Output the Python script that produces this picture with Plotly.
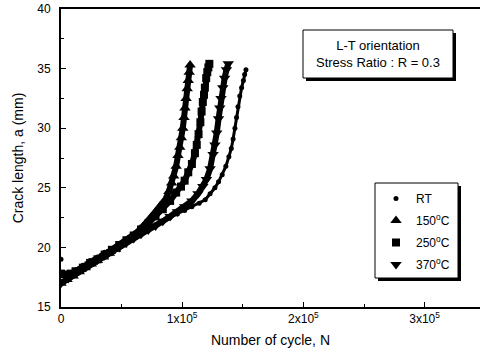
import plotly.graph_objects as go

# ---- data (N in units of 1e5 cycles, crack length a in mm) ----
rt_N = [0.00, 0.06, 0.12, 0.18, 0.24, 0.30, 0.36, 0.42, 0.48, 0.54, 0.60, 0.66, 0.72, 0.78,
        0.84, 0.90, 0.96, 1.02, 1.08, 1.14, 1.19, 1.23, 1.27, 1.30, 1.33, 1.36, 1.385, 1.405,
        1.42, 1.435, 1.448, 1.46, 1.475, 1.49, 1.505, 1.515, 1.526]
rt_a = [19.0, 17.8, 18.1, 18.5, 18.9, 19.2, 19.6, 19.9, 20.3, 20.6, 21.0, 21.3, 21.6, 21.9,
        22.2, 22.5, 22.8, 23.1, 23.4, 23.7, 24.0, 24.5, 25.0, 25.5, 26.1, 26.8, 27.6, 28.3,
        29.1, 30.0, 30.9, 31.8, 32.7, 33.4, 34.0, 34.5, 34.9]

t150_N = [0.00, 0.05, 0.10, 0.15, 0.20, 0.25, 0.30, 0.35, 0.40, 0.45, 0.50, 0.55, 0.60, 0.65,
          0.70, 0.74, 0.78, 0.82, 0.86, 0.89, 0.913, 0.93, 0.95, 0.965, 0.98, 0.993, 1.005,
          1.015, 1.023, 1.032, 1.041, 1.05, 1.058, 1.065]
t150_a = [17.0, 17.3, 17.6, 17.95, 18.3, 18.6, 18.9, 19.2, 19.5, 19.85, 20.2, 20.6, 21.0, 21.5,
          22.0, 22.5, 23.0, 23.5, 24.0, 24.7, 25.4, 26.0, 26.8, 27.7, 28.4, 29.2, 30.0,
          30.9, 31.7, 32.5, 33.3, 34.0, 34.7, 35.3]

t250_N = [0.00, 0.08, 0.12, 0.18, 0.24, 0.30, 0.36, 0.42, 0.48, 0.54, 0.60, 0.66, 0.72, 0.78,
          0.84, 0.90, 0.95, 0.99, 1.02, 1.05, 1.08, 1.105, 1.12, 1.135, 1.15, 1.16, 1.17, 1.18,
          1.187, 1.198, 1.207, 1.216, 1.224]
t250_a = [17.8, 17.8, 18.0, 18.3, 18.7, 19.0, 19.4, 19.8, 20.2, 20.6, 21.0, 21.5, 22.0, 22.6,
          23.2, 23.9, 24.6, 25.1, 25.6, 26.3, 27.0, 27.9, 28.6, 29.5, 30.5, 31.4, 32.2, 32.8,
          33.4, 34.2, 34.7, 35.1, 35.4]

t370_N = [0.00, 0.06, 0.12, 0.18, 0.24, 0.30, 0.36, 0.42, 0.48, 0.54, 0.60, 0.66, 0.72, 0.78,
          0.84, 0.90, 0.96, 1.02, 1.08, 1.13, 1.17, 1.20, 1.23, 1.255, 1.27, 1.285, 1.30, 1.31,
          1.32, 1.335, 1.35, 1.365, 1.38]
t370_a = [17.0, 17.4, 17.8, 18.2, 18.6, 18.95, 19.3, 19.65, 20.0, 20.4, 20.75, 21.1, 21.45, 21.8,
          22.2, 22.6, 23.0, 23.4, 23.9, 24.5, 25.1, 25.7, 26.6, 27.8, 28.6, 29.6, 30.8, 31.7,
          32.5, 33.4, 34.2, 34.9, 35.4]

x_tickvals = [0, 1, 2, 3]
x_ticktext = ["0", "1x10<sup>5</sup>", "2x10<sup>5</sup>", "3x10<sup>5</sup>"]
y_tickvals = [15, 20, 25, 30, 35, 40]

SCALE = 1e5
FONT = "Liberation Sans, Arial, sans-serif"

# name, N, a, marker symbol, marker size, connecting line width, index where line starts
series = [
    ("RT", rt_N, rt_a, "circle", 5, 3, 1),
    ("150<sup>o</sup>C", t150_N, t150_a, "triangle-up", 10, 6, 0),
    ("250<sup>o</sup>C", t250_N, t250_a, "square", 8, 6, 0),
    ("370<sup>o</sup>C", t370_N, t370_a, "triangle-down", 10, 6, 0),
]

fig = go.Figure()
for i, (name, N, a, sym, msize, lw, start) in enumerate(series):
    xs = [n * SCALE for n in N]
    fig.add_trace(go.Scatter(x=xs[start:], y=a[start:], mode="lines",
                             line=dict(color="black", width=lw),
                             showlegend=False, hoverinfo="skip", legendgroup=f"g{i}"))
    fig.add_trace(go.Scatter(x=xs, y=a, mode="markers", name=name, legendgroup=f"g{i}",
                             marker=dict(symbol=sym, size=msize, color="black")))

W, H = 480, 360
L, R, T, B = 61, 0, 9, 53
pw, ph = W - L - R, H - T - B


def px(x):
    return (x - L) / pw


def py(y):
    return (H - B - y) / ph


shapes = []
# text box with shadow
shapes.append(dict(type="rect", xref="paper", yref="paper", x0=px(306), x1=px(456), y0=py(81), y1=py(33),
                   fillcolor="black", line=dict(width=0), layer="above"))
shapes.append(dict(type="rect", xref="paper", yref="paper", x0=px(303), x1=px(453), y0=py(78), y1=py(30),
                   fillcolor="white", line=dict(color="black", width=1), layer="above"))
# legend box with shadow
shapes.append(dict(type="rect", xref="paper", yref="paper", x0=px(378), x1=px(461), y0=py(281), y1=py(186),
                   fillcolor="black", line=dict(width=0), layer="below"))
shapes.append(dict(type="rect", xref="paper", yref="paper", x0=px(375), x1=px(458), y0=py(278), y1=py(183),
                   fillcolor="white", line=dict(color="black", width=1), layer="below"))

fig.update_layout(
    width=W, height=H,
    margin=dict(l=L, r=R, t=T, b=B, pad=0),
    paper_bgcolor="white", plot_bgcolor="white",
    font=dict(family=FONT, color="black", size=12),
    shapes=shapes,
    showlegend=True,
    legend=dict(x=px(376), y=py(184), xanchor="left", yanchor="top",
                bgcolor="rgba(0,0,0,0)", borderwidth=0,
                font=dict(family=FONT, size=12, color="black"),
                traceorder="grouped", tracegroupgap=3, itemsizing="trace"),
    xaxis=dict(range=[0, 3.457 * SCALE], tickvals=[v * SCALE for v in x_tickvals], ticktext=x_ticktext,
               ticks="inside", ticklen=5, tickwidth=1, tickcolor="black",
               minor=dict(dtick=0.5 * SCALE, ticks="inside", ticklen=3, tickcolor="black"),
               showline=True, linecolor="black", linewidth=2, mirror=True,
               showgrid=False, zeroline=False, tickfont=dict(size=12),
               title=dict(text="Number of cycle, N", font=dict(size=14), standoff=10)),
    yaxis=dict(range=[15, 40], tickvals=y_tickvals,
               ticks="inside", ticklen=5, tickwidth=1, tickcolor="black",
               minor=dict(dtick=2.5, ticks="inside", ticklen=3, tickcolor="black"),
               showline=True, linecolor="black", linewidth=2,
               showgrid=False, zeroline=False, tickfont=dict(size=12), ticklabelstandoff=6,
               title=dict(text="Crack length, a (mm)", font=dict(size=14), standoff=10)),
    annotations=[dict(xref="paper", yref="paper", x=px(378), y=py(54), xanchor="center", yanchor="middle",
                      text="L-T orientation<br>Stress Ratio : R = 0.3", showarrow=False,
                      font=dict(size=13, family=FONT), align="center")],
)

fig.write_html("out.html")
